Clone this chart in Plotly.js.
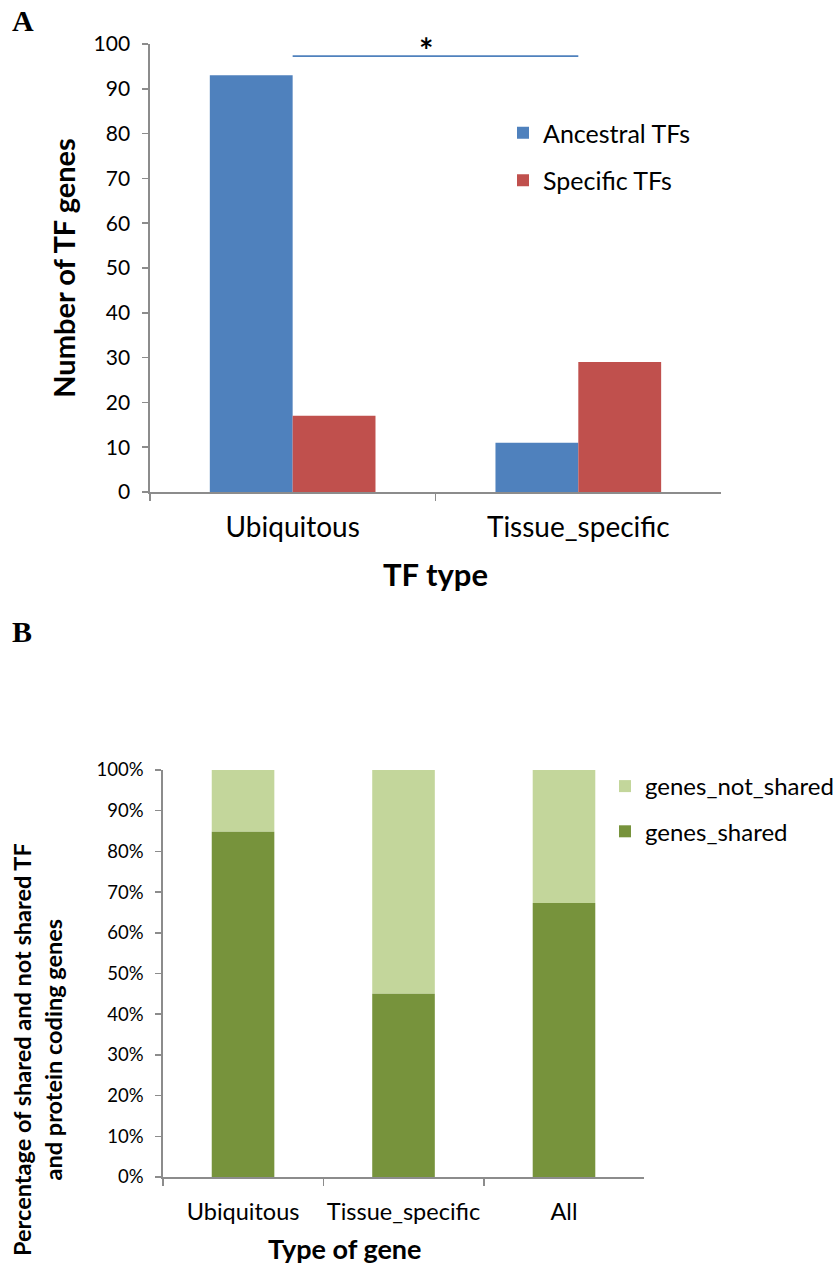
<!DOCTYPE html>
<html>
<head>
<meta charset="utf-8">
<script src="https://cdn.plot.ly/plotly-3.0.1.min.js"></script>
<style>html,body{margin:0;padding:0;background:#fff}#chart{width:839px;height:1264px}</style>
</head>
<body>
<div id="chart"></div>
<script>
// Panel A data
const tfTypes = ["Ubiquitous", "Tissue_specific"];
const ancestralTFs = [93, 11];
const specificTFs = [17, 29];
const sigLevel = 97.3;

// Panel B data
const geneTypes = ["Ubiquitous", "Tissue_specific", "All"];
const genesShared = [84.8, 45, 67.3];
const genesNotShared = [15.2, 55, 32.7];
const pctTicks = [0, 10, 20, 30, 40, 50, 60, 70, 80, 90, 100];
const pctTickText = ["0%", "10%", "20%", "30%", "40%", "50%", "60%", "70%", "80%", "90%", "100%"];

const W = 839, H = 1264;
const px = v => v / W;
const py = v => 1 - v / H;
const FONT = "Lato, 'Noto Sans', sans-serif";
const SERIF = "'Liberation Serif', 'DejaVu Serif', serif";
const AX = "#8c8c8c";

const traces = [
  {type: "bar", name: "Ancestral TFs", x: tfTypes, y: ancestralTFs, xaxis: "x", yaxis: "y",
   width: 0.29, offset: -0.29, marker: {color: "#4F81BD"}, legend: "legend", legendgroup: "anc"},
  {type: "bar", name: "Specific TFs", x: tfTypes, y: specificTFs, xaxis: "x", yaxis: "y",
   width: 0.29, offset: 0, marker: {color: "#C0504D"}, legend: "legend", legendgroup: "spec"},
  {type: "bar", name: "genes_not_shared", x: geneTypes, y: genesNotShared, base: genesShared,
   xaxis: "x2", yaxis: "y2", width: 0.39, marker: {color: "#C3D69B"}, legend: "legend2", legendgroup: "nsh"},
  {type: "bar", name: "genes_shared", x: geneTypes, y: genesShared, xaxis: "x2", yaxis: "y2",
   width: 0.39, marker: {color: "#77933C"}, legend: "legend2", legendgroup: "sh"}
];

const layout = {
  width: W, height: H,
  margin: {l: 0, r: 0, t: 0, b: 0},
  paper_bgcolor: "#fff", plot_bgcolor: "#fff",
  barmode: "overlay",
  font: {family: FONT, color: "#000"},
  xaxis: {
    domain: [px(150), px(722)], anchor: "y", type: "category", range: [-0.5, 1.5],
    showline: true, linecolor: AX, linewidth: 1.5, ticks: "outside", tickson: "boundaries",
    ticklen: 7, tickcolor: AX, tickwidth: 1.5, showgrid: false, zeroline: false,
    tickfont: {size: 28, family: FONT}, ticklabelstandoff: 10, tickangle: 0,
    title: {text: "<b>TF type</b>", font: {size: 31, family: FONT}, standoff: 22}
  },
  yaxis: {
    domain: [py(492), py(44)], anchor: "x", range: [0, 100], dtick: 10,
    showline: true, linecolor: AX, linewidth: 1.5, ticks: "outside", ticklen: 6,
    tickcolor: AX, tickwidth: 1.5, showgrid: false, zeroline: false,
    tickfont: {size: 21, family: FONT}, ticklabelstandoff: 8,
    title: {text: "<b>Number of TF genes</b>", font: {size: 29, family: FONT}, standoff: 9}
  },
  xaxis2: {
    domain: [px(163), px(645)], anchor: "y2", type: "category", range: [-0.5, 2.5],
    showline: true, linecolor: AX, linewidth: 1.5, ticks: "outside", tickson: "boundaries",
    ticklen: 7, tickcolor: AX, tickwidth: 1.5, showgrid: false, zeroline: false,
    tickfont: {size: 23.5, family: FONT}, ticklabelstandoff: 13, tickangle: 0
  },
  yaxis2: {
    domain: [py(1177), py(770)], anchor: "x2", range: [0, 100],
    tickvals: pctTicks, ticktext: pctTickText,
    showline: true, linecolor: AX, linewidth: 1.5, ticks: "outside", ticklen: 6,
    tickcolor: AX, tickwidth: 1.5, showgrid: false, zeroline: false,
    tickfont: {size: 18.5, family: FONT}, ticklabelstandoff: 8
  },
  legend: {x: px(503), y: py(110), xanchor: "left", yanchor: "top", bgcolor: "rgba(0,0,0,0)",
    traceorder: "grouped", tracegroupgap: 12, font: {size: 25, family: FONT}},
  legend2: {x: px(606), y: py(764), xanchor: "left", yanchor: "top", bgcolor: "rgba(0,0,0,0)",
    traceorder: "grouped", tracegroupgap: 11, font: {size: 24, family: FONT}},
  shapes: [
    {type: "line", xref: "x", yref: "y", x0: tfTypes[0], x1: tfTypes[1], y0: sigLevel, y1: sigLevel,
     line: {color: "#4F81BD", width: 1.8}}
  ],
  annotations: [
    {text: "<b>*</b>", xref: "x", yref: "y", x: 0.5, y: sigLevel, xshift: -9, yshift: 7, yanchor: "middle",
     showarrow: false, font: {size: 34, family: FONT, color: "#000"}},
    {text: "<b>A</b>", xref: "paper", yref: "paper", x: px(10), y: py(2), xanchor: "left", yanchor: "top",
     showarrow: false, font: {size: 30, family: SERIF, color: "#000"}},
    {text: "<b>B</b>", xref: "paper", yref: "paper", x: px(10), y: py(613), xanchor: "left", yanchor: "top",
     showarrow: false, font: {size: 30, family: SERIF, color: "#000"}},
    {text: "<b>Percentage of shared and not shared TF<br>and protein coding genes</b>",
     xref: "paper", yref: "paper", x: px(37), y: py(1049), textangle: -90,
     xanchor: "center", yanchor: "middle", showarrow: false,
     font: {size: 23.5, family: FONT, color: "#000"}},
    {text: "<b>Type of gene</b>", xref: "paper", yref: "paper", x: px(345), y: py(1248),
     xanchor: "center", yanchor: "middle", showarrow: false,
     font: {size: 27, family: FONT, color: "#000"}}
  ]
};

Plotly.newPlot("chart", traces, layout, {displayModeBar: false, staticPlot: true});
</script>
</body>
</html>
